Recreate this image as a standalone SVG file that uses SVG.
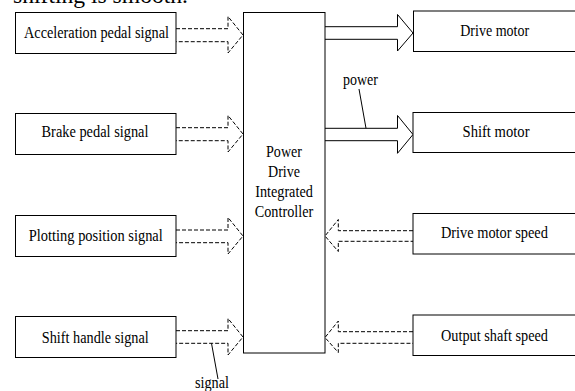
<svg xmlns="http://www.w3.org/2000/svg" width="575" height="391" viewBox="0 0 575 391">
  <style>
    .box { fill: #fff; stroke: #000; stroke-width: 1; }
    .lbl { font-family: "Liberation Serif", "Times New Roman", serif; font-size: 17px; fill: #000; text-anchor: middle; }
    .sig { fill: none; stroke: #000; stroke-width: 1; stroke-dasharray: 4 2; }
    .pwr { fill: #fff; stroke: #000; stroke-width: 1; }
    .lead { fill: none; stroke: #000; stroke-width: 1; }
  </style>
  <rect width="575" height="391" fill="#fff"/>

  <!-- sentence running above the figure, clipped by the page edge -->
  <text x="13" y="3" font-family="Liberation Serif, serif" font-size="24" textLength="175" lengthAdjust="spacingAndGlyphs">shifting is smooth.</text>

  <!-- connectors -->
  <g id="connectors">
    <!-- signal inputs (dashed hollow arrows) -->
    <path class="sig" d="M176,28.7 H228 V16.5 L243,35 L228,53 V41.7 H176"/>
    <path class="sig" d="M176,127.7 H228 V115.5 L243,134 L228,152 V140.7 H176"/>
    <path class="sig" d="M176,230 H228 V217.5 L243,236 L228,254 V242.7 H176"/>
    <path class="sig" d="M176,330.7 H228 V318.5 L243,337 L228,355 V343.3 H176"/>
    <!-- power outputs (solid hollow arrows) -->
    <path class="pwr" d="M325,26.7 H397.5 V14.5 L413,33 L397.5,51 V39.3 H325"/>
    <path class="pwr" d="M325,128.3 H397.5 V115.5 L413,134.5 L397.5,153.3 V140.7 H325"/>
    <!-- feedback signals (dashed hollow arrows, pointing left) -->
    <path class="sig" d="M413,230.7 H338.3 V219.5 L325,236 L338.3,251.5 V241.3 H413"/>
    <path class="sig" d="M413,331.7 H338.3 V321 L325,337.5 L338.3,352.5 V343.3 H413"/>
    <!-- annotation leaders -->
    <line class="lead" x1="359" y1="89" x2="366" y2="128.3"/>
    <line class="lead" x1="211.5" y1="343.3" x2="218" y2="379"/>
    <text class="lbl" x="360.5" y="85" textLength="35" lengthAdjust="spacingAndGlyphs">power</text>
    <text class="lbl" x="212" y="388" textLength="34" lengthAdjust="spacingAndGlyphs">signal</text>
  </g>

  <!-- controller -->
  <g id="controller">
    <rect class="box" x="243.5" y="12.5" width="81.5" height="340.5"/>
    <text class="lbl" x="284" y="157.3" textLength="36" lengthAdjust="spacingAndGlyphs">Power</text>
    <text class="lbl" x="284" y="177.3" textLength="32" lengthAdjust="spacingAndGlyphs">Drive</text>
    <text class="lbl" x="284" y="197.3" textLength="57.6" lengthAdjust="spacingAndGlyphs">Integrated</text>
    <text class="lbl" x="284" y="217.3" textLength="58.4" lengthAdjust="spacingAndGlyphs">Controller</text>
  </g>

  <!-- input nodes -->
  <g id="accel-pedal">
    <rect class="box" x="15.5" y="12.5" width="160.5" height="41"/>
    <text class="lbl" x="96.5" y="38.3" textLength="145" lengthAdjust="spacingAndGlyphs">Acceleration pedal signal</text>
  </g>
  <g id="brake-pedal">
    <rect class="box" x="15.5" y="113.5" width="160.5" height="41"/>
    <text class="lbl" x="95" y="137.3" textLength="107" lengthAdjust="spacingAndGlyphs">Brake pedal signal</text>
  </g>
  <g id="plotting-position">
    <rect class="box" x="15.5" y="215.5" width="160.5" height="41"/>
    <text class="lbl" x="95.8" y="241" textLength="134" lengthAdjust="spacingAndGlyphs">Plotting position signal</text>
  </g>
  <g id="shift-handle">
    <rect class="box" x="15.5" y="316.5" width="160.5" height="41"/>
    <text class="lbl" x="95.3" y="342.7" textLength="107" lengthAdjust="spacingAndGlyphs">Shift handle signal</text>
  </g>

  <!-- output / feedback nodes (run past the right edge) -->
  <g id="drive-motor">
    <rect class="box" x="413.5" y="11" width="170" height="40.5"/>
    <text class="lbl" x="494.7" y="36" textLength="69" lengthAdjust="spacingAndGlyphs">Drive motor</text>
  </g>
  <g id="shift-motor">
    <rect class="box" x="413" y="112.5" width="170" height="40"/>
    <text class="lbl" x="496" y="137.3" textLength="67" lengthAdjust="spacingAndGlyphs">Shift motor</text>
  </g>
  <g id="drive-motor-speed">
    <rect class="box" x="413" y="213.5" width="170" height="40.5"/>
    <text class="lbl" x="494.4" y="238.3" textLength="107" lengthAdjust="spacingAndGlyphs">Drive motor speed</text>
  </g>
  <g id="output-shaft-speed">
    <rect class="box" x="413" y="315" width="170" height="40.5"/>
    <text class="lbl" x="494.5" y="340.7" textLength="107" lengthAdjust="spacingAndGlyphs">Output shaft speed</text>
  </g>
</svg>
